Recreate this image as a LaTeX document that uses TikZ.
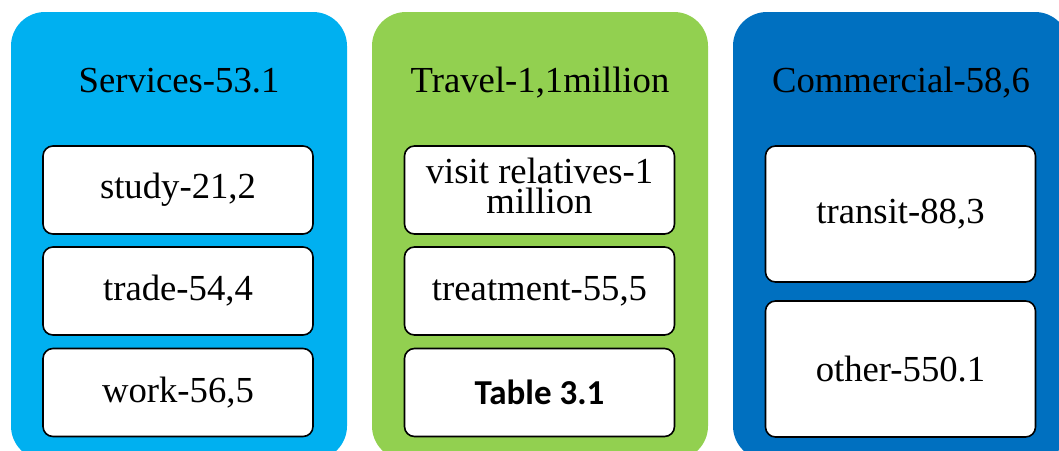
\documentclass[tikz,border=0pt]{standalone}
\usepackage{fontspec}
\setmainfont{Liberation Serif}
\newfontfamily\tablefont{Carlito}

\definecolor{svcblue}{HTML}{00B0F0}
\definecolor{travelgreen}{HTML}{92D050}
\definecolor{comblue}{HTML}{0070C0}

\tikzset{
  panel/.style={rounded corners=34pt, minimum width=336pt, minimum height=448pt, inner sep=0pt},
  item/.style={draw=black, line width=1.6pt, fill=white, rounded corners=10pt,
    minimum width=270pt, inner sep=0pt, align=center,
    font=\fontsize{36.7}{30.5}\selectfont},
  title/.style={anchor=base, font=\fontsize{36.7}{44}\selectfont}
}

\begin{document}
\begin{tikzpicture}[x=1pt,y=-1pt]
        \useasboundingbox (0,0) rectangle (1059,450);
        \clip (0,0) rectangle (1059,450);

        %panels
        \node[panel, fill=svcblue] (services) at (179,236) {};
        \node[panel, fill=travelgreen] (travel) at (540,236) {};
        \node[panel, fill=comblue] (commercial) at (901,236) {};

        %titles
        \node[title] (servicestitle) at (179,92) {Services-53.1};
        \node[title] (traveltitle) at (540,92) {Travel-1,1million};
        \node[title] (commercialtitle) at (901,92) {Commercial-58,6};

        % services items
        \node[item, minimum height=88pt] (study) at (178,190) {study-21,2};
        \node[item, minimum height=88pt] (trade) at (178,291) {trade-54,4};
        \node[item, minimum height=88pt] (work) at (178,392.5) {work-56,5};

        % travel items
        \node[item, minimum height=88pt] (relatives) at (539.5,190) {};
        \node[font=\fontsize{36.7}{30.5}\selectfont, align=center, inner sep=0pt] (relativestext) at (539.5,186) {visit relatives-1\\million};
        \node[item, minimum height=88pt] (treatment) at (539.5,291) {treatment-55,5};
        \node[item, minimum height=88pt, font=\fontsize{35}{40}\tablefont\bfseries] (tableref) at (539.5,392.5) {Table 3.1};

        % commercial items
        \node[item, minimum height=136pt] (transit) at (900.5,214) {transit-88,3};
        \node[item, minimum height=136pt] (other) at (900.5,369) {other-550.1};

    \end{tikzpicture}
\end{document}
